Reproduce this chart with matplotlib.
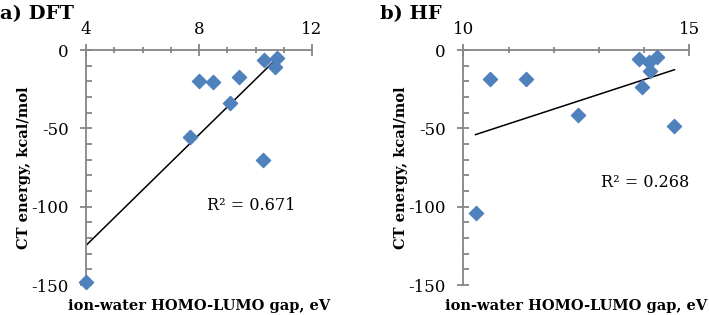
import numpy as np
import matplotlib
matplotlib.use("Agg")
import matplotlib.pyplot as plt
from matplotlib.ticker import MultipleLocator

plt.rcParams['font.family'] = 'DejaVu Serif'
plt.rcParams['axes.unicode_minus'] = False

# a) DFT data
dft_gap = [10.29, 10.77, 10.70, 7.99, 8.51, 9.41, 9.08, 7.67, 10.25, 4.0]
dft_ct = [-6.4, -5.3, -10.6, -19.8, -20.2, -17.4, -34.0, -55.4, -70.2, -148.0]

# b) HF data
hf_gap = [10.58, 11.38, 12.53, 13.89, 14.10, 14.29, 14.12, 13.96, 14.67, 10.27]
hf_ct = [-18.2, -18.6, -41.3, -5.5, -7.6, -4.2, -13.7, -23.3, -48.7, -103.8]

panels = [
    ("a) DFT", dft_gap, dft_ct, (4, 12), 4, 1, "R² = 0.671", (9.83, -99)),
    ("b) HF", hf_gap, hf_ct, (10, 15), 5, 1, "R² = 0.268", (14.02, -84.4)),
]

blue = '#4F81BD'
grey = '#868686'

fig = plt.figure(figsize=(7.09, 3.15), dpi=100)
lefts = [0.1213, 0.6535]

for (title, xs, ys, xlim, major, minor, r2, r2pos), left in zip(panels, lefts):
    ax = fig.add_axes([left, 0.0952, 0.3188, 0.746])
    ax.scatter(xs, ys, marker='D', s=52, color=blue, zorder=3, clip_on=False)

    # linear trendline across data range
    k, b = np.polyfit(xs, ys, 1)
    xl = np.array([min(xs), max(xs)])
    ax.plot(xl, k * xl + b, color='black', lw=1.1, zorder=2)

    ax.set_xlim(*xlim)
    ax.set_ylim(-150, 0)
    ax.xaxis.set_major_locator(MultipleLocator(major))
    ax.xaxis.set_minor_locator(MultipleLocator(minor))
    ax.yaxis.set_major_locator(MultipleLocator(50))
    ax.yaxis.set_minor_locator(MultipleLocator(10))
    ax.xaxis.tick_top()
    ax.xaxis.set_label_position('bottom')

    for s in ['right', 'bottom']:
        ax.spines[s].set_visible(False)
    for s in ['top', 'left']:
        ax.spines[s].set_color(grey)
        ax.spines[s].set_linewidth(1.3)

    ax.tick_params(axis='x', which='both', direction='inout', color=grey, width=1.3)
    ax.tick_params(axis='x', which='major', length=8, labelsize=12, pad=5)
    ax.tick_params(axis='x', which='minor', length=5)
    ax.tick_params(axis='y', which='major', direction='inout', length=9,
                   color=grey, width=1.3, labelsize=12, pad=8)
    ax.tick_params(axis='y', which='minor', direction='in', length=4,
                   color=grey, width=1.3)

    ax.set_xlabel("ion-water HOMO-LUMO gap, eV", fontsize=10.5, fontweight='bold', labelpad=10)
    ax.set_ylabel("CT energy, kcal/mol", fontsize=10.5, fontweight='bold', labelpad=0)
    ax.text(r2pos[0], r2pos[1], r2, fontsize=11.5, ha='center', va='center')
    ax.set_facecolor('none')

fig.text(0.0, 0.985, "a) DFT", fontsize=14, fontweight='bold', va='top', ha='left')
fig.text(0.536, 0.985, "b) HF", fontsize=14, fontweight='bold', va='top', ha='left')

fig.savefig('out.png', dpi=100)
